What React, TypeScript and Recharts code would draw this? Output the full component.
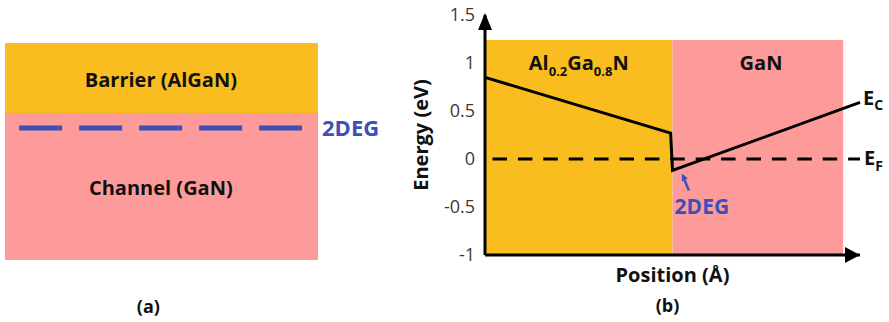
import React from "react";
import {
  ComposedChart,
  Line,
  XAxis,
  YAxis,
  ReferenceArea,
  ReferenceDot,
} from "recharts";

const ORANGE = "#F9BD1F";
const PINK = "#FD9B9B";
const BLUE = "#3D4FB8";
const FONT = "'Open Sans', Lato, sans-serif";

// panel (a): layer stack, normalised 0..1
const barrierBottom = 0.677;
const twoDegLevel = [
  { x: 0.045, y: 0.608 },
  { x: 0.949, y: 0.608 },
];

// panel (b): band diagram
const interfacePos = 50;
const shadeEnd = 95.5;
const shadeTop = 1.24;
const energyTicks = [-1, -0.5, 0, 0.5, 1, 1.5];
const conductionBand = [
  { x: 0, e: 0.85 },
  { x: 49.5, e: 0.27 },
  { x: 50, e: -0.12 },
  { x: 100, e: 0.59 },
];
const fermiLevel = [
  { x: 2, e: 0 },
  { x: 100, e: 0 },
];

const txt = (props: any, children: React.ReactNode, extra: any = {}) => (
  <text
    fontFamily={FONT}
    fontWeight={700}
    fontSize={19}
    fill="#111"
    textAnchor="middle"
    {...extra}
    {...props}
  >
    {children}
  </text>
);

function PanelA() {
  return (
    <ComposedChart
      width={400}
      height={322}
      margin={{ top: 43, right: 82, bottom: 62, left: 5 }}
    >
      <XAxis type="number" dataKey="x" domain={[0, 1]} hide />
      <YAxis type="number" dataKey="y" domain={[0, 1]} hide />
      <ReferenceArea x1={0} x2={1} y1={barrierBottom} y2={1} fill={ORANGE} fillOpacity={1} />
      <ReferenceArea x1={0} x2={1} y1={0} y2={barrierBottom} fill={PINK} fillOpacity={1} />
      <Line
        data={twoDegLevel}
        dataKey="y"
        stroke={BLUE}
        strokeWidth={5}
        strokeDasharray="43 17"
        dot={false}
        isAnimationActive={false}
      />
      <ReferenceDot
        x={0.498}
        y={0.829}
        shape={(p: any) => txt({ x: p.cx, y: p.cy + 7 }, "Barrier (AlGaN)", { fontSize: 20 })}
      />
      <ReferenceDot
        x={0.498}
        y={0.332}
        shape={(p: any) => txt({ x: p.cx, y: p.cy + 7 }, "Channel (GaN)", { fontSize: 20 })}
      />
      <ReferenceDot
        x={0.949}
        y={0.608}
        ifOverflow="visible"
        shape={(p: any) =>
          txt({ x: p.cx + 20, y: p.cy + 8 }, "2DEG", { textAnchor: "start", fill: BLUE, fontSize: 22 })
        }
      />
      <ReferenceDot
        x={0.458}
        y={-0.207}
        ifOverflow="visible"
        shape={(p: any) => txt({ x: p.cx, y: p.cy + 8 }, "(a)", { fontSize: 18 })}
      />
    </ComposedChart>
  );
}

function PanelB() {
  return (
    <ComposedChart
      width={489}
      height={322}
      margin={{ top: 15, right: 29, bottom: 0, left: 0 }}
    >
      <ReferenceArea x1={0} x2={interfacePos} y1={-1} y2={shadeTop} fill={ORANGE} fillOpacity={1} />
      <ReferenceArea x1={interfacePos} x2={shadeEnd} y1={-1} y2={shadeTop} fill={PINK} fillOpacity={1} />
      <Line
        data={fermiLevel}
        dataKey="e"
        stroke="#000"
        strokeWidth={3}
        strokeDasharray="14.5 10.9"
        dot={false}
        isAnimationActive={false}
      />
      <Line
        data={conductionBand}
        dataKey="e"
        stroke="#000"
        strokeWidth={3}
        dot={false}
        isAnimationActive={false}
      />
      <ReferenceDot
        x={25}
        y={1.0}
        shape={(p: any) =>
          txt({ x: p.cx, y: p.cy + 7 }, (
            <>
              Al<tspan fontSize={13} dy={6}>0.2</tspan>
              <tspan dy={-6}>Ga</tspan>
              <tspan fontSize={13} dy={6}>0.8</tspan>
              <tspan dy={-6}>N</tspan>
            </>
          ), { fontSize: 20 })
        }
      />
      <ReferenceDot
        x={73.6}
        y={1.0}
        shape={(p: any) => txt({ x: p.cx, y: p.cy + 7 }, "GaN", { fontSize: 20 })}
      />
      <ReferenceDot
        x={100}
        y={0.59}
        ifOverflow="visible"
        shape={(p: any) =>
          txt({ x: p.cx + 3, y: p.cy + 3 }, (
            <>
              E<tspan fontSize={14} dy={5}>C</tspan>
            </>
          ), { textAnchor: "start", fontSize: 20 })
        }
      />
      <ReferenceDot
        x={100}
        y={0}
        ifOverflow="visible"
        shape={(p: any) =>
          txt({ x: p.cx + 4, y: p.cy + 6 }, (
            <>
              E<tspan fontSize={14} dy={6}>F</tspan>
            </>
          ), { textAnchor: "start", fontSize: 20 })
        }
      />
      <ReferenceDot
        x={52.5}
        y={-0.15}
        shape={(p: any) => (
          <g>
            <line x1={p.cx + 2} y1={p.cy + 5} x2={p.cx + 7} y2={p.cy + 17} stroke={BLUE} strokeWidth={2.5} />
            <path d={`M${p.cx},${p.cy} L${p.cx + 6},${p.cy + 5} L${p.cx},${p.cy + 8} Z`} fill={BLUE} />
            {txt({ x: p.cx + 20, y: p.cy + 41 }, "2DEG", { fill: BLUE, fontSize: 21 })}
          </g>
        )}
      />
      <ReferenceDot
        x={0}
        y={1.5}
        ifOverflow="visible"
        shape={(p: any) => (
          <path d={`M${p.cx},${p.cy - 2} L${p.cx + 7},${p.cy + 15} L${p.cx - 7},${p.cy + 15} Z`} fill="#000" />
        )}
      />
      <ReferenceDot
        x={100}
        y={-1}
        ifOverflow="visible"
        shape={(p: any) => (
          <path d={`M${p.cx},${p.cy} L${p.cx - 15},${p.cy - 8} L${p.cx - 15},${p.cy + 8} Z`} fill="#000" />
        )}
      />
      <XAxis
        type="number"
        dataKey="x"
        domain={[0, 100]}
        tick={false}
        tickLine={false}
        height={67}
        axisLine={{ stroke: "#000", strokeWidth: 3 }}
        label={{
          content: ({ viewBox }: any) => (
            <g>
              {txt({ x: viewBox.x + viewBox.width / 2, y: viewBox.y + 27 }, "Position (Å)", { fontSize: 20 })}
              {txt({ x: viewBox.x + viewBox.width / 2 - 5, y: viewBox.y + 57 }, "(b)", { fontSize: 18 })}
            </g>
          ),
        }}
      />
      <YAxis
        type="number"
        domain={[-1, 1.5]}
        ticks={energyTicks}
        width={85}
        tickSize={0}
        tickMargin={10}
        tickLine={false}
        axisLine={{ stroke: "#000", strokeWidth: 3 }}
        tick={{ fill: "#3a3a3a", fontSize: 18, fontFamily: FONT }}
        label={{
          content: ({ viewBox }: any) => {
            const cx = viewBox.x + 20;
            const cy = viewBox.y + viewBox.height / 2;
            return txt(
              { x: cx, y: cy, transform: `rotate(-90 ${cx} ${cy})`, dominantBaseline: "central" },
              "Energy (eV)",
              { fontSize: 20 }
            );
          },
        }}
      />
    </ComposedChart>
  );
}

export default function App() {
  return (
    <div style={{ position: "absolute", left: 0, top: 0, width: 889, height: 322, background: "#fff" }}>
      <div style={{ position: "absolute", left: 0, top: 0 }}>
        <PanelA />
      </div>
      <div style={{ position: "absolute", left: 400, top: 0 }}>
        <PanelB />
      </div>
    </div>
  );
}
